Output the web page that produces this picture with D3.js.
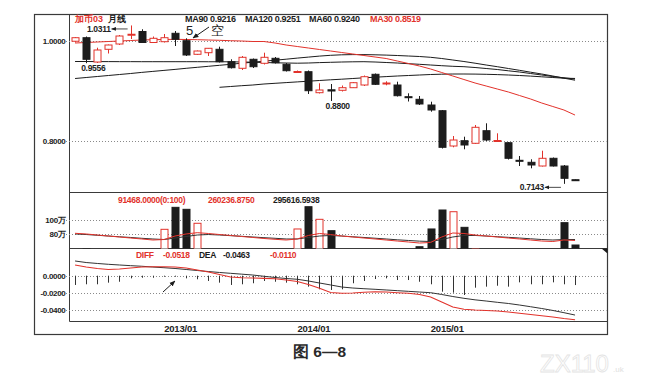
<!DOCTYPE html>
<html>
<head>
<meta charset="utf-8">
<script src="https://cdn.jsdelivr.net/npm/d3@7"></script>
<style>
  html, body { margin: 0; padding: 0; background: #fff; }
  svg { display: block; }
  text { font-family: "Liberation Sans", Arial, sans-serif; }
</style>
</head>
<body>
<svg id="chart" width="654" height="385"></svg>
<script>
// ---- monthly bars, 2012/03 .. 2015/12 ----
const months = [
  "2012/03","2012/04","2012/05","2012/06","2012/07","2012/08","2012/09","2012/10","2012/11","2012/12",
  "2013/01","2013/02","2013/03","2013/04","2013/05","2013/06","2013/07","2013/08","2013/09","2013/10","2013/11","2013/12",
  "2014/01","2014/02","2014/03","2014/04","2014/05","2014/06","2014/07","2014/08","2014/09","2014/10","2014/11","2014/12",
  "2015/01","2015/02","2015/03","2015/04","2015/05","2015/06","2015/07","2015/08","2015/09","2015/10","2015/11","2015/12"
];

const open  = [0.9995,1.0066,0.9580,0.9834,0.9940,1.0120,1.0190,0.9970,0.9986,1.0154,
               1.0006,0.9734,0.9766,0.9834,0.9586,0.9454,0.9634,0.9554,0.9654,0.9534,0.9380,0.9386,
               0.8966,0.9024,0.9014,0.9066,0.9120,0.9334,0.9146,0.9120,0.8886,0.8834,0.8720,0.8606,
               0.7900,0.8006,0.7954,0.8206,0.8006,0.7966,0.7614,0.7574,0.7500,0.7654,0.7500,0.7226];
const high  = [1.0080,1.0090,0.9866,0.9930,1.0120,1.0311,1.0235,1.0090,1.0140,1.0200,
               1.0054,0.9810,0.9860,0.9886,0.9634,0.9700,0.9650,0.9766,0.9680,0.9560,0.9410,0.9410,
               0.9154,0.9140,0.9110,0.9180,0.9310,0.9350,0.9194,0.9186,0.8954,0.8900,0.8786,0.8620,
               0.8100,0.8086,0.8320,0.8354,0.8154,0.7980,0.7700,0.7634,0.7806,0.7670,0.7520,0.7230];
const low   = [0.9970,0.9556,0.9560,0.9750,0.9920,1.0040,0.9960,0.9960,0.9970,0.9900,
               0.9700,0.9720,0.9700,0.9570,0.9450,0.9420,0.9460,0.9530,0.9550,0.9390,0.9360,0.8940,
               0.8950,0.8800,0.8990,0.9060,0.9100,0.9120,0.9114,0.8890,0.8790,0.8720,0.8586,0.7850,
               0.7874,0.7834,0.7940,0.8000,0.8000,0.7630,0.7500,0.7454,0.7490,0.7490,0.7143,0.7200];
const close = [1.0066,0.9634,0.9820,0.9920,1.0100,1.0135,0.9970,1.0054,1.0066,1.0034,
               0.9720,0.9800,0.9854,0.9586,0.9466,0.9674,0.9486,0.9674,0.9566,0.9406,0.9390,0.9006,
               0.9020,0.9000,0.9066,0.9166,0.9286,0.9134,0.9160,0.8906,0.8866,0.8740,0.8620,0.7874,
               0.8020,0.7920,0.8274,0.8020,0.8010,0.7654,0.7600,0.7520,0.7654,0.7500,0.7254,0.7206];

// moving averages of the close
const ma30  = [0.996,0.997,0.998,0.999,1.000,1.001,1.002,1.0026,1.003,1.0034,
               1.003,1.0026,1.002,1.0014,1.0006,1.000,0.999,0.999,0.996,0.992,0.989,0.986,
               0.983,0.980,0.977,0.974,0.971,0.968,0.965,0.960,0.955,0.950,0.944,0.937,
               0.930,0.923,0.916,0.910,0.904,0.898,0.891,0.884,0.876,0.869,0.862,0.8519];
const ma60  = [0.9590,0.9590,0.9588,0.9588,0.9587,0.9587,0.9586,0.9586,0.9586,0.9586,
               0.9586,0.9586,0.9585,0.9585,0.9584,0.9580,0.9576,0.9570,0.9564,0.9560,0.9556,0.9560,
               0.9568,0.9574,0.9580,0.9584,0.9586,0.9580,0.9570,0.9560,0.9546,0.9534,0.9520,0.9506,
               0.9494,0.9486,0.9470,0.9450,0.9430,0.9404,0.9380,0.9350,0.9320,0.9290,0.9264,0.9240];
const ma90  = [0.925,0.927,0.929,0.931,0.933,0.935,0.9372,0.9392,0.9412,0.9432,
               0.9454,0.9474,0.9494,0.9514,0.9534,0.9556,0.9576,0.9596,0.9616,0.9636,0.9658,0.9678,
               0.9698,0.9714,0.9724,0.9728,0.9728,0.9724,0.9718,0.9710,0.9700,0.9690,0.9674,0.9650,
               0.9620,0.9590,0.9556,0.9520,0.9486,0.9450,0.9414,0.9376,0.9340,0.9300,0.9256,0.9216];
const ma120 = [null,null,null,null,null,null,null,null,null,null,
               null,null,null,0.9074,0.9090,0.9106,0.9120,0.9140,0.9154,0.9168,0.9182,0.9196,
               0.9210,0.9224,0.9236,0.9250,0.9264,0.9276,0.9288,0.9300,0.9310,0.9320,0.9330,0.9336,
               0.9340,0.9340,0.9338,0.9334,0.9328,0.9320,0.9310,0.9298,0.9284,0.9270,0.9256,0.9251];

// volume, in 万
const volume = [52,58,48,45,50,55,50,47,86.4,118.5,
                115.6,95.2,55,52,48,45,42,46,44,50,86.9,119.4,
                101,84.4,55,48,45,52,44,50,56,61,86.9,114.6,
                112.1,89.3,58,52,45,55,48,46,44,50,96.1,63.5];
const volMaShort = [80.6,79.6,78.1,76.6,75.2,73.7,72.3,70.8,71.5,76.6,
                    79.6,81.5,80.3,78.8,77.4,75.9,74.5,73.0,71.8,70.8,72.3,77.4,
                    80.3,78.8,76.6,75.2,73.7,72.3,70.8,69.3,67.9,66.4,67.2,75.2,
                    81.0,80.3,78.1,76.6,75.2,73.7,72.3,70.8,69.3,68.6,70.8,70.1];
const volMaLong  = [79.6,78.8,77.7,76.6,75.5,74.5,73.3,72.3,71.5,73.7,
                    75.9,78.1,78.8,78.1,77.1,76.2,75.2,74.2,73.3,72.3,72.3,74.5,
                    76.6,77.4,76.6,75.5,74.5,73.4,72.3,71.1,70.1,69.1,68.6,71.5,
                    75.2,77.4,77.4,76.6,75.6,74.7,73.7,72.6,71.5,70.8,71.5,71.5];
const volHeader = ["91468.0000(0:100)", "260236.8750", "295616.5938"];

// MACD
const diff = [0.0126,0.0102,0.0085,0.0073,0.0079,0.0091,0.0102,0.0106,0.0106,0.0102,
              0.0091,0.0067,0.0044,0.0014,-0.0015,-0.0025,-0.0027,-0.0031,-0.0036,-0.0051,-0.0068,-0.0104,
              -0.0148,-0.0198,-0.0207,-0.0204,-0.0195,-0.0188,-0.0192,-0.0200,-0.0207,-0.0221,-0.0251,-0.0309,
              -0.0368,-0.0395,-0.0404,-0.0409,-0.0415,-0.0427,-0.0442,-0.0456,-0.0471,-0.0486,-0.0504,-0.0518];
const dea  = [0.0173,0.0155,0.0144,0.0134,0.0126,0.0118,0.0111,0.0102,0.0094,0.0085,
              0.0073,0.0061,0.0049,0.0038,0.0028,0.0018,0.0008,-0.0007,-0.0021,-0.0033,-0.0042,-0.0062,
              -0.0086,-0.0109,-0.0133,-0.0145,-0.0153,-0.0160,-0.0168,-0.0176,-0.0184,-0.0192,-0.0200,-0.0221,
              -0.0245,-0.0266,-0.0284,-0.0298,-0.0313,-0.0327,-0.0345,-0.0365,-0.0386,-0.0409,-0.0435,-0.0463];
const macd = [-0.0109,-0.0101,-0.0101,-0.0082,-0.0071,-0.0031,-0.0024,-0.0024,-0.0012,-0.0012,
              -0.0031,-0.0042,-0.0062,-0.0082,-0.0109,-0.0101,-0.0089,-0.0062,-0.0071,-0.0082,-0.0101,-0.0129,
              -0.0160,-0.0168,-0.0160,-0.0089,-0.0062,-0.0039,-0.0031,-0.0051,-0.0051,-0.0071,-0.0101,-0.0188,
              -0.0200,-0.0227,-0.0141,-0.0129,-0.0118,-0.0129,-0.0078,-0.0101,-0.0101,-0.0078,-0.0101,-0.0110];

// axis ticks
const priceTicks = [1.0, 0.8];
const volTicks = [100, 80];
const macdTicks = [0, -0.02, -0.04];
const yearTicks = ["2013/01", "2014/01", "2015/01"];

// marked extremes
const priceMarks = [
  { i: 5,  v: 1.0311, side: "left" },
  { i: 1,  v: 0.9556, side: "below" },
  { i: 23, v: 0.8800, side: "below" },
  { i: 44, v: 0.7143, side: "left" }
];

// ---------------------------------------------------------------
const RED = "#e2322b", INK = "#1c1c1c", GRID = "#8a8a8a";
const loc = d3.formatLocale({ decimal: ".", thousands: ",", grouping: [3], currency: ["", ""], minus: "-" });
const f4 = loc.format(".4f");

const svg = d3.select("#chart");
const L = 69.5, R = 607.5;
const panel = {
  main: { top: 14.5, bottom: 192.5 },
  vol:  { top: 192.5, bottom: 248.5 },
  macd: { top: 248.5, bottom: 321.5 }
};

const x = d3.scaleBand().domain(months).range([69.5, 580.6]).padding(0);
const step = x.bandwidth();
const cx = i => x(months[i]) + step / 2;

const yP = d3.scaleLinear().domain([0.8, 1.0]).range([141, 41]);
const yV = d3.scaleLinear().domain([80, 100]).range([233.7, 220]);
const yM = d3.scaleLinear().domain([-0.04, 0]).range([309.7, 275.7]);

const defs = svg.append("defs");
Object.entries(panel).forEach(([k, p]) => {
  defs.append("clipPath").attr("id", "clip-" + k)
    .append("rect").attr("x", L).attr("y", p.top).attr("width", R - L).attr("height", p.bottom - p.top);
});
defs.append("marker").attr("id", "arrow").attr("viewBox", "0 0 10 10")
  .attr("refX", 9).attr("refY", 5).attr("markerWidth", 6).attr("markerHeight", 6)
  .attr("orient", "auto-start-reverse")
  .append("path").attr("d", "M0,1 L10,5 L0,9 Z").attr("fill", INK);

// ---- frames ----
svg.append("rect").attr("x", 34.5).attr("y", 14.5).attr("width", R - 34.5).attr("height", 334.5 - 14.5)
  .attr("fill", "none").attr("stroke", "#3a3a3a").attr("stroke-width", 1.2);
svg.append("line").attr("x1", L).attr("x2", L).attr("y1", 14.5).attr("y2", 321.5)
  .attr("stroke", "#3a3a3a");
[panel.vol.top, panel.macd.top, panel.macd.bottom].forEach(yy => {
  svg.append("line").attr("x1", L).attr("x2", R).attr("y1", yy).attr("y2", yy).attr("stroke", "#3a3a3a");
});

// ---- grid + y labels ----
function yAxis(scale, ticks, fmt) {
  const g = svg.append("g").attr("transform", `translate(${L},0)`)
    .call(d3.axisLeft(scale).tickValues(ticks).tickSize(0).tickPadding(4).tickFormat(fmt));
  g.select(".domain").remove();
  g.selectAll("text").attr("font-size", 8).attr("font-weight", "bold").attr("fill", "#222")
    .attr("letter-spacing", -0.3);
  svg.append("g").selectAll("line").data(ticks).join("line")
    .attr("x1", 66).attr("x2", R - 1)
    .attr("y1", d => Math.round(scale(d)) + 0.5).attr("y2", d => Math.round(scale(d)) + 0.5)
    .attr("stroke", GRID).attr("stroke-dasharray", "1,2");
}
yAxis(yP, priceTicks, f4);
yAxis(yV, volTicks, d => d + "万");
yAxis(yM, macdTicks, f4);

// ---- x labels ----
svg.append("g").selectAll("text").data(yearTicks).join("text")
  .attr("x", d => x(d)).attr("y", 331.5).attr("text-anchor", "middle")
  .attr("font-size", 9.5).attr("font-weight", "bold").attr("fill", "#222").attr("letter-spacing", -0.2)
  .text(d => d);

// ---- moving average lines ----
const priceLine = d3.line().defined(d => d != null).x((d, i) => cx(i)).y(d => yP(d));
const gMain = svg.append("g").attr("clip-path", "url(#clip-main)");
[[ma60, INK], [ma90, INK], [ma120, INK], [ma30, RED]].forEach(([s, c]) => {
  gMain.append("path").attr("d", priceLine(s)).attr("fill", "none").attr("stroke", c).attr("stroke-width", 1);
});

// ---- candles ----
const idx = d3.range(months.length);
const up = i => close[i] >= open[i];
const gC = gMain.append("g");
gC.selectAll("line.wick").data(idx).join("line").attr("class", "wick")
  .attr("x1", i => Math.round(cx(i)) + 0.5).attr("x2", i => Math.round(cx(i)) + 0.5)
  .attr("y1", i => yP(high[i])).attr("y2", i => yP(low[i]))
  .attr("stroke", i => up(i) ? RED : INK);
gC.selectAll("rect.body").data(idx).join("rect").attr("class", "body")
  .attr("x", i => Math.round(cx(i)) - 3)
  .attr("width", 7)
  .attr("y", i => yP(Math.max(open[i], close[i])))
  .attr("height", i => Math.max(1, Math.abs(yP(open[i]) - yP(close[i]))))
  .attr("fill", i => up(i) ? "#fff" : INK)
  .attr("stroke", i => up(i) ? RED : INK)
  .attr("stroke-width", 1);

// ---- extreme labels ----
priceMarks.forEach(m => {
  const px = cx(m.i), py = yP(m.v);
  const t = svg.append("text").attr("font-size", 8.5).attr("font-weight", "bold").attr("fill", "#222")
    .attr("letter-spacing", -0.3).attr("dominant-baseline", "middle").text(f4(m.v));
  if (m.side === "below") {
    t.attr("x", px - 5).attr("y", py + 6);
  } else {
    const endX = px - 3, startX = px - 19;
    t.attr("x", startX - 1).attr("y", py + 4).attr("text-anchor", "end");
    svg.append("line").attr("x1", endX).attr("y1", py + 3.5).attr("x2", startX).attr("y2", py + 3.5)
      .attr("stroke", INK).attr("stroke-width", 0.8).attr("marker-end", "url(#arrow)");
  }
});

// ---- sell-signal annotation ----
svg.append("text").attr("x", 186).attr("y", 35).attr("font-family", "Liberation Serif, serif")
  .attr("font-size", 13).attr("fill", "#222").text("5");
svg.append("line").attr("x1", 209).attr("y1", 27).attr("x2", 193).attr("y2", 38)
  .attr("stroke", INK).attr("stroke-width", 1).attr("marker-end", "url(#arrow)");
svg.append("text").attr("x", 211).attr("y", 35).attr("font-family", "Noto Sans CJK SC")
  .attr("font-size", 13).attr("fill", "#222").text("空");

// ---- main header ----
const header = [
  { x: 75,  t: "加币03", c: RED, cjk: true },
  { x: 108, t: "月线", c: INK, cjk: true },
  { x: 185, t: "MA90 " + f4(ma90[ma90.length - 1]), c: INK },
  { x: 245, t: "MA120 " + f4(ma120[ma120.length - 1]), c: INK },
  { x: 309, t: "MA60 " + f4(ma60[ma60.length - 1]), c: INK },
  { x: 370, t: "MA30 " + f4(ma30[ma30.length - 1]), c: RED }
];
svg.append("g").selectAll("text").data(header).join("text")
  .attr("x", d => d.x).attr("y", 21.5)
  .attr("font-size", d => d.cjk ? 9 : 9).attr("font-weight", "bold")
  .attr("font-family", d => d.cjk ? "Noto Sans CJK SC" : null)
  .attr("letter-spacing", d => d.cjk ? 0 : -0.3)
  .attr("fill", d => d.c).text(d => d.t);

// ---- volume ----
const gVol = svg.append("g").attr("clip-path", "url(#clip-vol)");
gVol.selectAll("rect").data(idx).join("rect")
  .attr("x", i => Math.round(cx(i)) - 3)
  .attr("width", 7)
  .attr("y", i => yV(volume[i]))
  .attr("height", i => Math.max(0, panel.vol.bottom + 2 - yV(volume[i])))
  .attr("fill", i => up(i) ? "#fff" : INK)
  .attr("stroke", i => up(i) ? RED : INK);
const volLine = d3.line().x((d, i) => cx(i)).y(d => yV(d));
gVol.append("path").attr("d", volLine(volMaLong)).attr("fill", "none").attr("stroke", "#333").attr("stroke-width", 1);
gVol.append("path").attr("d", volLine(volMaShort)).attr("fill", "none").attr("stroke", RED).attr("stroke-width", 1);
svg.append("g").selectAll("text").data(volHeader).join("text")
  .attr("x", (d, i) => [118, 208, 273][i]).attr("y", 203)
  .attr("font-size", 8.5).attr("font-weight", "bold").attr("letter-spacing", -0.3)
  .attr("fill", (d, i) => i < 2 ? RED : INK).text(d => d);
svg.append("path").attr("d", `M${R - 6},${panel.vol.bottom} L${R},${panel.vol.bottom} L${R},${panel.vol.bottom + 5} Z`)
  .attr("fill", INK);

// ---- MACD ----
const gM = svg.append("g").attr("clip-path", "url(#clip-macd)");
gM.selectAll("line").data(idx).join("line")
  .attr("x1", i => Math.round(cx(i)) + 0.5).attr("x2", i => Math.round(cx(i)) + 0.5)
  .attr("y1", yM(0)).attr("y2", i => yM(macd[i]))
  .attr("stroke", "#333").attr("stroke-width", 1);
const macdLine = d3.line().x((d, i) => cx(i)).y(d => yM(d));
gM.append("path").attr("d", macdLine(dea)).attr("fill", "none").attr("stroke", "#333").attr("stroke-width", 1);
gM.append("path").attr("d", macdLine(diff)).attr("fill", "none").attr("stroke", RED).attr("stroke-width", 1.1);
const macdHeader = [
  { x: 136, t: "DIFF", c: RED },
  { x: 163, t: f4(diff[diff.length - 1]), c: RED },
  { x: 199, t: "DEA", c: INK },
  { x: 223, t: f4(dea[dea.length - 1]), c: INK },
  { x: 270, t: f4(macd[macd.length - 1]), c: RED }
];
svg.append("g").selectAll("text").data(macdHeader).join("text")
  .attr("x", d => d.x).attr("y", 257.5)
  .attr("font-size", 8.5).attr("font-weight", "bold").attr("letter-spacing", -0.3)
  .attr("fill", d => d.c).text(d => d.t);
svg.append("line").attr("x1", 163).attr("y1", 292).attr("x2", 175).attr("y2", 281)
  .attr("stroke", INK).attr("stroke-width", 1).attr("marker-end", "url(#arrow)");

// ---- caption ----
svg.append("text").attr("x", 293).attr("y", 357).attr("font-family", "Noto Sans CJK SC")
  .attr("font-size", 15.5).attr("font-weight", 600).attr("fill", "#2a2a2a").text("图 6—8");
svg.append("text").attr("x", 540).attr("y", 372).attr("font-size", 24)
  .attr("font-family", "DejaVu Sans Condensed, sans-serif")
  .attr("fill", "#fff").attr("stroke", "#e4e4e4").attr("stroke-width", 0.8).text("ZX110");
svg.append("text").attr("x", 613).attr("y", 372).attr("font-size", 8)
  .attr("fill", "#e0e0e0").text(".uk");
</script>
</body>
</html>
